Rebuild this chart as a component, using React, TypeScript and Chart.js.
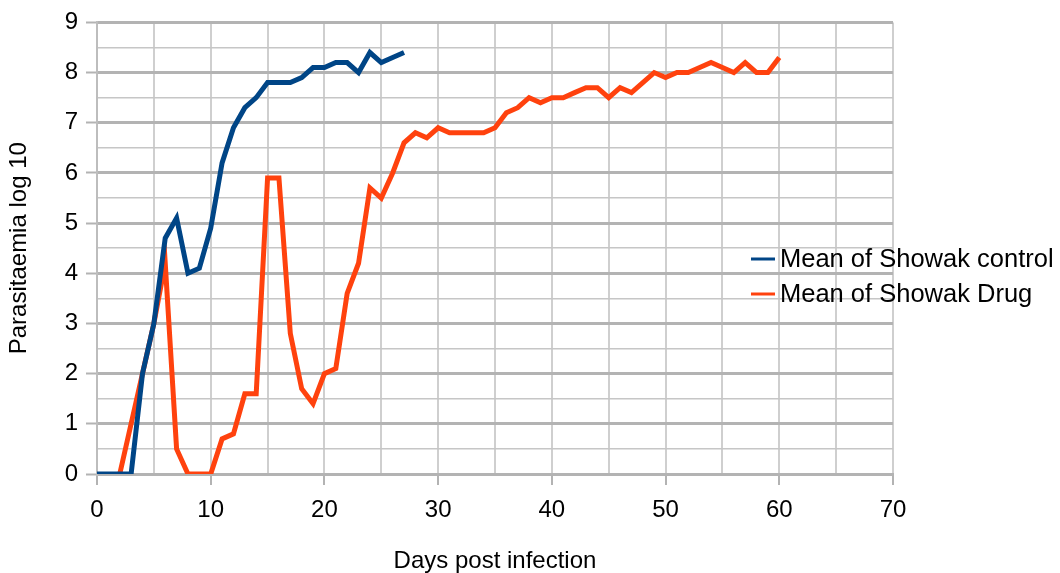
import React, { useEffect, useRef } from 'react';
import { Chart, registerables } from 'chart.js';

Chart.register(...registerables);

const controlDays = [0, 1, 2, 3, 4, 5, 6, 7, 8, 9, 10, 11, 12, 13, 14, 15, 16, 17, 18, 19, 20, 21, 22, 23, 24, 25, 26, 27];
const controlValues = [0, 0, 0, 0, 2, 3, 4.7, 5.1, 4.0, 4.1, 4.9, 6.2, 6.9, 7.3, 7.5, 7.8, 7.8, 7.8, 7.9, 8.1, 8.1, 8.2, 8.2, 8.0, 8.4, 8.2, 8.3, 8.4];

const drugDays = [
  2, 3, 4, 5, 6, 7, 8, 9, 10,
  11, 12, 13, 14, 15, 16, 17, 18, 19, 20,
  21, 22, 23, 24, 25, 26, 27, 28, 29, 30,
  31, 32, 33, 34, 35, 36, 37, 38, 39, 40,
  41, 42, 43, 44, 45, 46, 47, 48, 49, 50,
  51, 52, 53, 54, 55, 56, 57, 58, 59, 60,
];
const drugValues = [
  0, 1.0, 2.0, 3.0, 4.2, 0.5, 0, 0, 0,
  0.7, 0.8, 1.6, 1.6, 5.9, 5.9, 2.8, 1.7, 1.4, 2.0,
  2.1, 3.6, 4.2, 5.7, 5.5, 6.0, 6.6, 6.8, 6.7, 6.9,
  6.8, 6.8, 6.8, 6.8, 6.9, 7.2, 7.3, 7.5, 7.4, 7.5,
  7.5, 7.6, 7.7, 7.7, 7.5, 7.7, 7.6, 7.8, 8.0, 7.9,
  8.0, 8.0, 8.1, 8.2, 8.1, 8.0, 8.2, 8.0, 8.0, 8.3,
];

const seriesLabels = ['Mean of Showak control', 'Mean of Showak Drug'];
const seriesColors = ['#004586', '#ff420e'];

const xTitle = 'Days post infection';
const yTitle = 'Parasitaemia log 10';

const FONT = '"Liberation Sans", Arial, sans-serif';

const legendPlugin = {
  id: 'customLegend',
  afterDatasetsDraw(chart: any) {
    const { ctx } = chart;
    const lineX0 = 751;
    const lineX1 = 775;
    const textX = 780;
    const rows = [259, 294];
    ctx.save();
    chart.data.datasets.forEach((ds: any, i: number) => {
      const y = rows[i];
      ctx.strokeStyle = ds.borderColor;
      ctx.lineWidth = 3;
      ctx.beginPath();
      ctx.moveTo(lineX0, y);
      ctx.lineTo(lineX1, y);
      ctx.stroke();
      ctx.fillStyle = '#000000';
      ctx.font = `25.5px ${FONT}`;
      ctx.textAlign = 'left';
      ctx.textBaseline = 'middle';
      ctx.fillText(ds.label, textX, y + 1);
    });
    ctx.restore();
  },
};

export default function App() {
  const canvasRef = useRef<HTMLCanvasElement | null>(null);

  useEffect(() => {
    document.body.style.margin = '0';
    const canvas = canvasRef.current;
    if (!canvas) return;

    const chart = new Chart(canvas, {
      type: 'line',
      data: {
        datasets: [
          {
            label: seriesLabels[0],
            data: controlDays.map((d, i) => ({ x: d, y: controlValues[i] })),
            borderColor: seriesColors[0],
            backgroundColor: seriesColors[0],
            borderWidth: 5,
            pointRadius: 0,
            tension: 0,
            fill: false,
          },
          {
            label: seriesLabels[1],
            data: drugDays.map((d, i) => ({ x: d, y: drugValues[i] })),
            borderColor: seriesColors[1],
            backgroundColor: seriesColors[1],
            borderWidth: 5,
            pointRadius: 0,
            tension: 0,
            fill: false,
          },
        ],
      },
      options: {
        animation: false,
        responsive: true,
        maintainAspectRatio: false,
        layout: { padding: { top: 22, right: 167, left: 0, bottom: 0 } },
        plugins: {
          legend: { display: false },
          tooltip: { enabled: false },
        },
        scales: {
          x: {
            type: 'linear',
            min: 0,
            max: 70,
            afterFit: (scale: any) => {
              scale.height = 99;
            },
            ticks: {
              stepSize: 5,
              autoSkip: false,
              maxRotation: 0,
              padding: 11,
              color: '#000000',
              font: { family: FONT, size: 24 },
              callback: (v: any) => (Number(v) % 10 === 0 ? String(v) : ''),
            },
            grid: {
              color: '#cfcfcf',
              lineWidth: 2,
              tickLength: 11,
              tickColor: (c: any) => (c.tick && c.tick.value % 10 === 0 ? '#b3b3b3' : 'rgba(0,0,0,0)'),
              tickWidth: 2,
            },
            border: { color: '#b3b3b3', width: 3 },
            title: {
              display: true,
              text: xTitle,
              color: '#000000',
              font: { family: FONT, size: 24 },
              padding: { top: 0, bottom: -3 },
            },
          },
          y: {
            type: 'linear',
            min: 0,
            max: 9,
            afterFit: (scale: any) => {
              scale.width = 97;
            },
            ticks: {
              stepSize: 0.5,
              autoSkip: false,
              padding: 8,
              color: '#000000',
              font: { family: FONT, size: 24 },
              callback: (v: any) => (Number.isInteger(Number(v)) ? String(v) : ''),
            },
            grid: {
              color: (c: any) => (c.tick && Number.isInteger(c.tick.value) ? '#b3b3b3' : '#c6c6c6'),
              lineWidth: (c: any) => (c.tick && Number.isInteger(c.tick.value) ? 3 : 1.5),
              tickLength: 11,
              tickColor: (c: any) => (c.tick && Number.isInteger(c.tick.value) ? '#b3b3b3' : 'rgba(0,0,0,0)'),
              tickWidth: 2,
            },
            border: { color: '#bdbdbd', width: 2 },
            title: {
              display: true,
              text: yTitle,
              color: '#000000',
              font: { family: FONT, size: 24 },
              padding: { top: 5, bottom: 0 },
            },
          },
        },
      },
      plugins: [legendPlugin],
    });

    return () => {
      chart.destroy();
    };
  }, []);

  return (
    <div style={{ position: 'relative', width: 1060, height: 573 }}>
      <canvas ref={canvasRef} />
    </div>
  );
}
